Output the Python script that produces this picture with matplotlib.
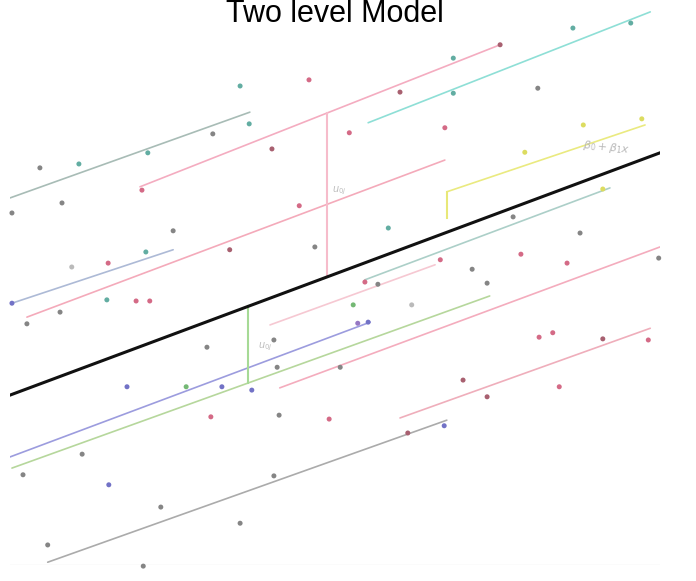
import numpy as np
import matplotlib
matplotlib.use("Agg")
import matplotlib.pyplot as plt

plt.rcParams["font.family"] = ["Liberation Sans", "DejaVu Sans"]

# group regression lines: start/end x and y (data units 0-100)
line_x0 = [0.0, 20.0, 55.1, 2.6, 0.3, 67.2, 54.6, 40.0, 0.0, 0.3, 41.5, 60.0, 5.8]
line_x1 = [36.9, 75.4, 98.5, 66.9, 25.1, 97.7, 92.3, 65.4, 55.4, 73.8, 100.0, 98.5, 67.2]
line_y0 = [65.9, 67.9, 79.4, 44.5, 47.0, 67.0, 51.2, 43.1, 19.4, 17.4, 31.8, 26.4, 0.5]
line_y1 = [81.3, 93.4, 99.3, 72.7, 56.6, 79.0, 67.7, 53.9, 43.6, 48.3, 57.1, 42.5, 26.0]
line_colors = ["#a8bcb6", "#f4acc0", "#8edfd6", "#f4aaba", "#adbad6", "#eaea80",
               "#accfc8", "#f6c8d2", "#9c9cde", "#b6d79c", "#f4acbd", "#efaebb", "#ababab"]

# overall (fixed) line
overall_x = [0.0, 100.0]
overall_y = [30.5, 74.0]

# group deviations drawn as vertical segments: group index, x, lower end
dev_group = [1, 9, 5]
dev_x = [48.8, 36.6, 67.2]
dev_low = [None, None, 62.3]
dev_colors = ["#f6bccb", "#a6da96", "#e8e878"]

# observations
pt_x = [35.4, 46.0, 60.0, 68.2, 68.2, 75.4, 81.2, 86.6, 95.5, 4.6, 10.6, 8.0, 0.3,
        21.2, 31.2, 36.8, 20.3, 25.1, 9.5, 15.1, 20.9, 33.8, 0.3, 7.7, 14.9, 19.4,
        21.5, 2.6, 30.3, 52.2, 40.3, 44.5, 46.9, 58.2, 54.6, 56.6, 40.6, 52.8, 53.5,
        55.1, 32.6, 30.9, 41.4, 49.1, 50.8, 18.0, 27.1, 37.2, 11.1, 2.0, 15.2, 40.6,
        23.2, 35.4, 5.8, 20.5, 87.7, 66.2, 71.1, 78.6, 73.4, 85.7, 99.8, 61.8, 81.4,
        83.5, 91.2, 98.2, 69.7, 73.4, 84.5, 66.8, 61.2, 66.9, 79.2, 88.2, 97.2, 91.2,
        77.4, 41.1]
pt_y = [86.0, 87.1, 84.9, 91.0, 84.7, 93.4, 85.6, 96.4, 97.3, 71.3, 72.0, 65.0, 63.2,
        74.0, 77.4, 79.2, 67.3, 60.0, 53.5, 54.2, 56.2, 56.6, 47.0, 45.4, 47.6, 47.4,
        47.4, 43.3, 39.1, 77.6, 74.7, 64.5, 57.1, 60.5, 50.8, 50.4, 40.4, 46.7, 43.4,
        43.6, 32.0, 26.6, 26.9, 26.2, 35.5, 32.0, 32.0, 31.4, 19.9, 16.2, 14.4, 16.0,
        10.4, 7.5, 3.6, -0.2, 59.6, 54.8, 53.1, 55.8, 50.6, 54.2, 55.1, 46.7, 40.9,
        41.7, 40.6, 40.4, 33.2, 30.2, 32.0, 25.0, 23.7, 78.5, 74.1, 79.0, 80.1, 67.5,
        62.5, 35.5]
pt_group = "trdttdgttgtggtgtrglrtdbgtrrggrdrgtrggnpbbrgrgbnbggbggggggrgrgrglrrdrddrbdryyyyggl"
palette = {"g": "#858585", "r": "#d46a86", "d": "#a86070", "t": "#62ad a2".replace(" ", ""),
           "b": "#7272c6", "y": "#dcdc60", "n": "#74b874", "l": "#bababa", "p": "#9678c4"}

fig = plt.figure(figsize=(6.96, 5.81), dpi=100)
ax = fig.add_axes([10 / 696, 16 / 581, 650 / 696, 557 / 581])
ax.set_xlim(0, 100)
ax.set_ylim(0, 100)
ax.axis("off")

ax.axhline(0, color="#ececec", lw=1, zorder=0)

for x0, x1, y0, y1, c in zip(line_x0, line_x1, line_y0, line_y1, line_colors):
    ax.plot([x0, x1], [y0, y1], color=c, lw=1.2, solid_capstyle="round", zorder=1)

ax.plot(overall_x, overall_y, color="#111111", lw=2.2, zorder=3)

# vertical deviation between group line and overall line
for g, xv, lo, c in zip(dev_group, dev_x, dev_low, dev_colors):
    yg = np.interp(xv, [line_x0[g], line_x1[g]], [line_y0[g], line_y1[g]])
    yo = np.interp(xv, overall_x, overall_y) if lo is None else lo
    ax.plot([xv, xv], [yo, yg], color=c, lw=1.5, zorder=1)

cols = [palette[k] for k in pt_group[:len(pt_x)]]
ax.scatter(pt_x, pt_y, s=13, c=cols, edgecolors="none", zorder=4, clip_on=False)

ax.text(49.5, 67.1, r"$u_{0j}$", color="#bdbdbd", fontsize=7, ha="left", va="center")
ax.text(38.2, 39.1, r"$u_{0j}$", color="#bdbdbd", fontsize=7, ha="left", va="center")
ax.text(88.0, 75.0, r"$\beta_0 + \beta_1 x$", color="#b8b8b8", fontsize=8,
        ha="left", va="center", rotation=-6)

fig.text(335 / 696, 1 - 22 / 581, "Two level Model", ha="center", va="baseline",
         fontsize=22, color="black")

fig.savefig("out.png", dpi=100)
